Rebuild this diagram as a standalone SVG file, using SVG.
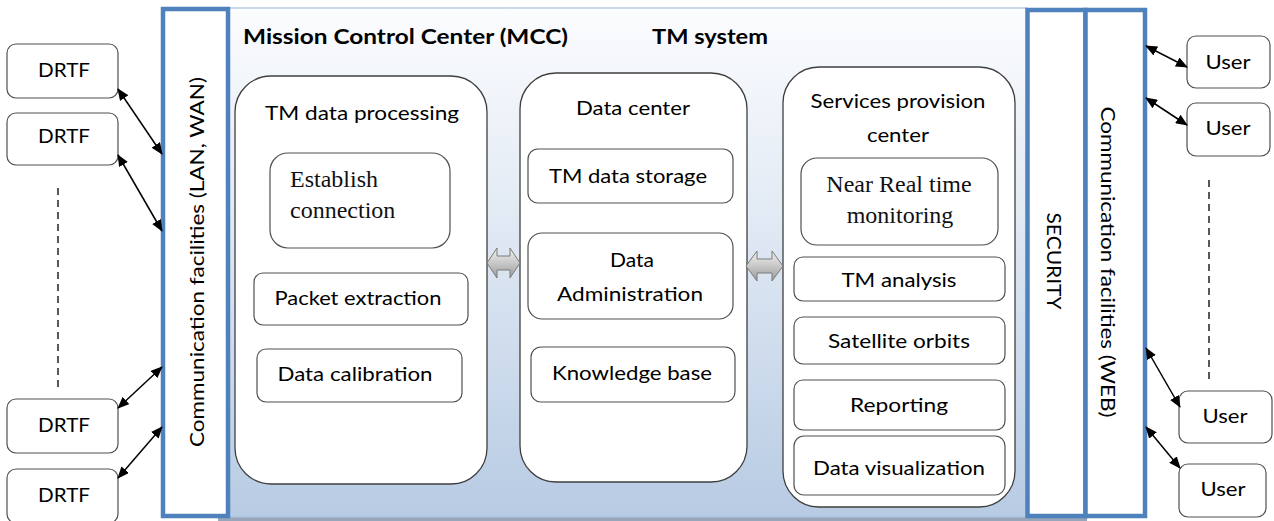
<svg xmlns="http://www.w3.org/2000/svg" width="1274" height="521" viewBox="0 0 1274 521">
<defs>
<linearGradient id="bg" x1="0" y1="0" x2="0" y2="1">
<stop offset="0" stop-color="#fbfcfe"/>
<stop offset="0.35" stop-color="#e6edf6"/>
<stop offset="1" stop-color="#b7cbe3"/>
</linearGradient>
<linearGradient id="blk" x1="0" y1="0" x2="0" y2="1">
<stop offset="0" stop-color="#f2f2f2"/>
<stop offset="0.5" stop-color="#c8c8c8"/>
<stop offset="1" stop-color="#9a9a9a"/>
</linearGradient>
<marker id="ah" viewBox="0 0 12 10" refX="11" refY="5" markerWidth="12" markerHeight="10" markerUnits="userSpaceOnUse" orient="auto-start-reverse">
<path d="M0,0 L12,5 L0,10 Z" fill="#000"/>
</marker>
</defs>
<style>
.lbl{font-family:Lato,"Liberation Sans",sans-serif;font-size:20px;fill:#000;text-anchor:middle}
.ser{font-family:"Liberation Serif",serif;font-size:24px;fill:#111}
.big{fill:#fff;stroke:#3f3f3f;stroke-width:1.3}
.box{fill:#fff;stroke:#505050;stroke-width:1.2}
.bar{fill:#fff;stroke:#4f81bd;stroke-width:4.5}
.con{stroke:#000;stroke-width:1.5;fill:none;marker-start:url(#ah);marker-end:url(#ah)}
.dash{stroke:#000;stroke-width:1.3;stroke-dasharray:7 5;fill:none}
.barr{fill:url(#blk);stroke:#7a7a7a;stroke-width:1}
</style>
<rect width="1274" height="521" fill="#fff"/>
<g id="mcc">
<rect x="218" y="516" width="869" height="5" fill="#97a6b8"/>
<rect x="228" y="8" width="799" height="509" fill="url(#bg)" stroke="#a9c0de" stroke-width="1.2"/>
<text x="243" y="44" font-family="Lato,'Liberation Sans',sans-serif" font-size="21" font-weight="bold" fill="#000" textLength="325" lengthAdjust="spacingAndGlyphs">Mission Control Center (MCC)</text>
<text x="652" y="44" font-family="Lato,'Liberation Sans',sans-serif" font-size="21" font-weight="bold" fill="#000" textLength="116" lengthAdjust="spacingAndGlyphs">TM system</text>
</g>
<g id="comm-lan">
<rect class="bar" x="163" y="9" width="65" height="507"/>
<text class="lbl" font-size="21" transform="translate(204,262) rotate(-90)" textLength="370" lengthAdjust="spacingAndGlyphs">Communication facilities (LAN, WAN)</text>
</g>
<g id="security">
<rect class="bar" x="1027.5" y="10" width="58" height="506"/>
<text class="lbl" font-size="21" transform="translate(1047,261) rotate(90)" textLength="97" lengthAdjust="spacingAndGlyphs">SECURITY</text>
</g>
<g id="comm-web">
<rect class="bar" x="1085.5" y="10" width="59.5" height="506"/>
<text class="lbl" font-size="21" transform="translate(1101,262) rotate(90)" textLength="311" lengthAdjust="spacingAndGlyphs">Communication facilities (WEB)</text>
</g>
<g id="tm-processing">
<rect class="big" x="235" y="76" width="252" height="408" rx="36"/>
<text class="lbl" font-size="21" x="362" y="120" textLength="194" lengthAdjust="spacingAndGlyphs">TM data processing</text>
</g>
<g id="establish">
<rect class="box" x="270" y="153" width="180" height="95" rx="18"/>
<text class="ser" x="290" y="187">Establish</text>
<text class="ser" x="290" y="218">connection</text>
</g>
<g id="packet">
<rect class="box" x="254" y="273" width="214" height="52" rx="9"/>
<text class="lbl" x="358" y="305" textLength="167" lengthAdjust="spacingAndGlyphs">Packet extraction</text>
</g>
<g id="calibration">
<rect class="box" x="257" y="349" width="205" height="53" rx="9"/>
<text class="lbl" x="355" y="381" textLength="155" lengthAdjust="spacingAndGlyphs">Data calibration</text>
</g>
<g id="data-center">
<rect class="big" x="520" y="73" width="227" height="409" rx="36"/>
<text class="lbl" x="633" y="115" textLength="114" lengthAdjust="spacingAndGlyphs">Data center</text>
</g>
<g id="storage">
<rect class="box" x="528" y="149" width="205" height="54" rx="10"/>
<text class="lbl" x="628" y="183" textLength="158" lengthAdjust="spacingAndGlyphs">TM data storage</text>
</g>
<g id="admin">
<rect class="box" x="528" y="233" width="205" height="86" rx="14"/>
<text class="lbl" x="632" y="267" textLength="44" lengthAdjust="spacingAndGlyphs">Data</text>
<text class="lbl" x="630" y="301" textLength="146" lengthAdjust="spacingAndGlyphs">Administration</text>
</g>
<g id="knowledge">
<rect class="box" x="531" y="347" width="204" height="55" rx="10"/>
<text class="lbl" x="632" y="380" textLength="160" lengthAdjust="spacingAndGlyphs">Knowledge base</text>
</g>
<g id="services">
<rect class="big" x="783" y="67" width="232" height="440" rx="36"/>
<text class="lbl" x="898" y="108" textLength="175" lengthAdjust="spacingAndGlyphs">Services provision</text>
<text class="lbl" x="898" y="142" textLength="62" lengthAdjust="spacingAndGlyphs">center</text>
</g>
<g id="nrt">
<rect class="box" x="801" y="158" width="197" height="87" rx="16"/>
<text class="ser" x="899" y="192" text-anchor="middle">Near Real time</text>
<text class="ser" x="900" y="223" text-anchor="middle">monitoring</text>
</g>
<g id="analysis">
<rect class="box" x="794" y="257" width="211" height="44" rx="9"/>
<text class="lbl" x="899" y="287" textLength="115" lengthAdjust="spacingAndGlyphs">TM analysis</text>
</g>
<g id="orbits">
<rect class="box" x="794" y="317" width="211" height="47" rx="9"/>
<text class="lbl" x="899" y="348" textLength="142" lengthAdjust="spacingAndGlyphs">Satellite orbits</text>
</g>
<g id="reporting">
<rect class="box" x="794" y="380" width="211" height="50" rx="9"/>
<text class="lbl" x="899" y="412" textLength="98" lengthAdjust="spacingAndGlyphs">Reporting</text>
</g>
<g id="visualization">
<rect class="box" x="794" y="436" width="211" height="59" rx="10"/>
<text class="lbl" x="899" y="475" textLength="172" lengthAdjust="spacingAndGlyphs">Data visualization</text>
</g>
<g id="drtf1"><rect class="box" x="7" y="44" width="111" height="54" rx="9"/><text class="lbl" x="64" y="77" textLength="52" lengthAdjust="spacingAndGlyphs">DRTF</text></g>
<g id="drtf2"><rect class="box" x="7" y="113" width="111" height="52" rx="9"/><text class="lbl" x="64" y="143" textLength="52" lengthAdjust="spacingAndGlyphs">DRTF</text></g>
<g id="drtf3"><rect class="box" x="7" y="399" width="111" height="54" rx="9"/><text class="lbl" x="64" y="432" textLength="52" lengthAdjust="spacingAndGlyphs">DRTF</text></g>
<g id="drtf4"><rect class="box" x="7" y="469" width="111" height="54" rx="9"/><text class="lbl" x="64" y="502" textLength="52" lengthAdjust="spacingAndGlyphs">DRTF</text></g>
<g id="user1"><rect class="box" x="1187" y="36" width="83" height="52" rx="9"/><text class="lbl" x="1228" y="69" textLength="45" lengthAdjust="spacingAndGlyphs">User</text></g>
<g id="user2"><rect class="box" x="1187" y="103" width="83" height="53" rx="9"/><text class="lbl" x="1228" y="135" textLength="45" lengthAdjust="spacingAndGlyphs">User</text></g>
<g id="user3"><rect class="box" x="1179" y="391" width="93" height="52" rx="9"/><text class="lbl" x="1225" y="423" textLength="45" lengthAdjust="spacingAndGlyphs">User</text></g>
<g id="user4"><rect class="box" x="1179" y="464" width="87" height="53" rx="9"/><text class="lbl" x="1223" y="496" textLength="45" lengthAdjust="spacingAndGlyphs">User</text></g>
<g id="connectors">
<line class="con" x1="118" y1="89" x2="162" y2="154"/>
<line class="con" x1="118" y1="155" x2="162" y2="231"/>
<line class="con" x1="118" y1="408" x2="162" y2="367"/>
<line class="con" x1="118" y1="478" x2="162" y2="427"/>
<line class="con" x1="1146" y1="46" x2="1187" y2="67"/>
<line class="con" x1="1146" y1="98" x2="1187" y2="125"/>
<line class="con" x1="1146" y1="348" x2="1180" y2="407"/>
<line class="con" x1="1146" y1="427" x2="1180" y2="468"/>
<line class="dash" x1="58" y1="188" x2="58" y2="390"/>
<line class="dash" x1="1209" y1="180" x2="1209" y2="382"/>
<path class="barr" d="M487,263 L497,248 L497,256 L510,256 L510,248 L520,263 L510,278 L510,270 L497,270 L497,278 Z"/>
<path class="barr" d="M746,266 L757,251 L757,259 L772,259 L772,251 L783,266 L772,281 L772,273 L757,273 L757,281 Z"/>
</g>
</svg>
